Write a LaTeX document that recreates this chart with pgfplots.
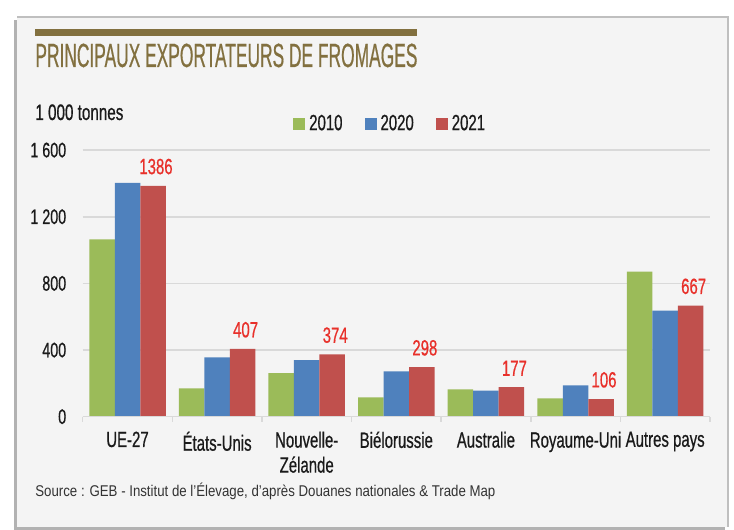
\documentclass[border=0pt]{standalone}
\usepackage{pgfplots}
\pgfplotsset{compat=1.18}
\usepackage{fontspec}
\setmainfont{Liberation Sans}
\newfontfamily\cond{Liberation Sans}[FakeStretch=0.68, FakeBold=0.6]
\newfontfamily\srcfont{Liberation Sans}[FakeStretch=0.85]
\definecolor{cgreen}{HTML}{9BBB59}
\definecolor{cblue}{HTML}{4F81BD}
\definecolor{cred}{HTML}{C0504D}
\definecolor{labred}{HTML}{E8302A}
\definecolor{titlecol}{HTML}{82703F}
\definecolor{bg}{HTML}{F4F4F4}
\definecolor{gridc}{HTML}{D9D9D9}
\definecolor{txt}{HTML}{1A1A1A}
\begin{document}
\begin{tikzpicture}
\fill[white] (0,0) rectangle (367pt,265pt);
\fill[black!30] (7pt,0pt) rectangle (362.5pt,255pt);
\fill[bg] (8.5pt,1.5pt) rectangle (364pt,256.5pt);
\draw[black!25, line width=0.6pt] (8.5pt,256.5pt) -- (364pt,256.5pt) -- (364pt,1.5pt);
\fill[titlecol] (17.5pt,247pt) rectangle (208.5pt,250.5pt);
\node[anchor=base west, inner sep=0pt, text=titlecol] at (17.5pt,231.5pt)
  {\resizebox{191pt}{11.7pt}{\cond PRINCIPAUX EXPORTATEURS DE FROMAGES}};
\node[anchor=base west, inner sep=0pt, text=txt] at (17.5pt,205pt)
  {\resizebox{44pt}{!}{\cond\fontsize{11}{13}\selectfont 1 000 tonnes}};
\node[anchor=base west, inner sep=0pt, text=black!80] at (17.5pt,16.5pt)
  {\resizebox{230pt}{!}{\srcfont\fontsize{8}{10}\selectfont Source : GEB - Institut de l’Élevage, d’après Douanes nationales \& Trade Map}};
\begin{axis}[
  at={(41.35pt,56.65pt)}, anchor=south west,
  width=313.65pt, height=133.3pt, scale only axis,
  xmin=-0.5, xmax=6.5, ymin=0, ymax=1600,
  ybar=0pt, bar width=12.75pt,
  axis line style={draw=none},
  xtick={0,...,6},
  xticklabels={UE-27,États-Unis,Nouvelle-\\Zélande,Biélorussie,Australie,Royaume-Uni,Autres pays},
  major x tick style={draw=none},
  minor xtick={-0.5,0.5,...,6.5},
  minor tick length=2.5pt,
  tick align=outside,
  xtick pos=bottom, ytick pos=left,
  minor x tick style={draw=gridc, line width=0.8pt},
  xticklabel style={font=\cond\fontsize{11}{12.5}\selectfont, text=txt, align=center, anchor=north, inner sep=0pt, yshift=-3pt},
  ytick={0,400,800,1200,1600},
  yticklabels={0,400,800,1 200,1 600},
  major y tick style={draw=none},
  yticklabel style={font=\cond\fontsize{10.5}{12}\selectfont, text=txt, anchor=east, inner sep=0pt, xshift=-3.8pt},
  ymajorgrids, grid style={draw=gridc, line width=0.8pt},
  legend columns=3,
  legend style={at={(0.335,1.098)}, anchor=west, draw=none, fill=none, inner sep=0pt,
    font=\cond\fontsize{11}{13}\selectfont, text=txt,
    /tikz/every even column/.append style={column sep=9pt}},
  legend image code/.code={\fill[#1] (0pt,-3pt) rectangle (6pt,3pt);},
]
\addplot[fill=cgreen, draw=none] coordinates {(0,1064) (1,170) (2,262) (3,116) (4,164) (5,110) (6,870)};
\addplot[fill=cblue, draw=none] coordinates {(0,1404) (1,356) (2,340) (3,272) (4,156) (5,188) (6,636)};
\addplot[fill=cred, draw=none, point meta=explicit symbolic,
  nodes near coords={\pgfplotspointmeta},
  nodes near coords style={font=\cond\fontsize{11}{13}\selectfont, text=labred, anchor=south, inner sep=0pt, yshift=5.5pt, xshift=1.5pt}]
  coordinates {(0,1386) [1386] (1,407) [407] (2,374) [374] (3,298) [298] (4,177) [177] (5,106) [106] (6,667) [667]};
\legend{2010,2020,2021}
\draw[gridc, line width=0.8pt] (axis cs:-0.5,0) -- (axis cs:6.5,0);
\end{axis}
\end{tikzpicture}
\end{document}
